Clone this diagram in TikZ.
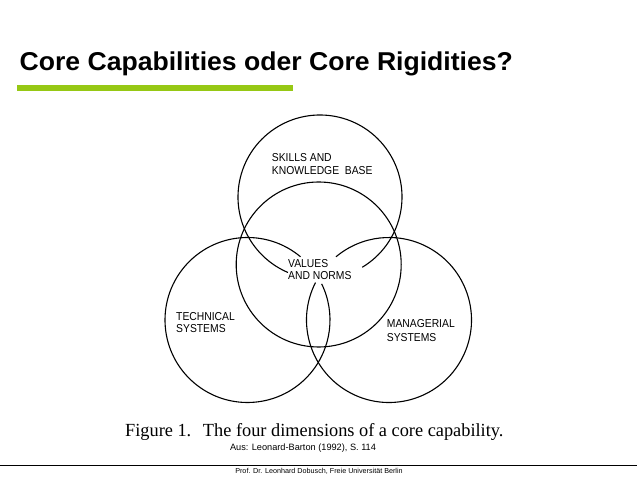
\documentclass[tikz,border=0pt]{standalone}
\usepackage{fontspec}
\setmainfont{Liberation Sans}
\newfontfamily\titlefont[FakeStretch=1.03]{Liberation Sans Bold}
\newfontfamily\labfont[FakeStretch=0.9]{Liberation Sans}
\newfontfamily\capfont[FakeStretch=0.99]{Liberation Serif}
\definecolor{barGreen}{RGB}{150,200,20}
\begin{document}
\begin{tikzpicture}[x=1pt,y=1pt,
  ring/.style={line width=1.1pt, black},
  lab/.style={anchor=base west, inner sep=0pt, font=\labfont\fontsize{11.5}{13}\selectfont},
  ]
\useasboundingbox (0,0) rectangle (638,479);
% title
\node[anchor=base west, inner sep=0pt, font=\titlefont\fontsize{25.8}{30}\selectfont] (title) at (19.5,408.5) {Core Capabilities oder Core Rigidities?};
\fill[barGreen] (17.3,388) rectangle (293,394);
% circle centres
\coordinate (Tc) at (320,282);
\coordinate (Cc) at (318.7,214.5);
\coordinate (Lc) at (247.5,159);
\coordinate (Rc) at (389,159);
% circles
\draw[ring] (Cc) circle[radius=82.5];
\draw[ring] ([shift={(-59:82)}]Tc) arc[start angle=-59, end angle=247, radius=82];
\draw[ring] ([shift={(50:82.5)}]Lc) arc[start angle=50, end angle=386, radius=82.5];
\draw[ring] ([shift={(153:82.5)}]Rc) arc[start angle=153, end angle=490, radius=82.5];
% labels
\node[lab] (sk1) at (271.7,317) {SKILLS AND};
\node[lab] (sk2) at (271.7,304) {KNOWLEDGE\ \ BASE};
\node[lab] (va1) at (288,211) {VALUES};
\node[lab] (va2) at (288,199) {AND NORMS};
\node[lab] (te1) at (176,158) {TECHNICAL};
\node[lab] (te2) at (176,146) {SYSTEMS};
\node[lab] (ma1) at (386.7,151) {MANAGERIAL};
\node[lab] (ma2) at (386.7,137) {SYSTEMS};
% caption
\node[anchor=base west, inner sep=0pt, font=\capfont\fontsize{18.5}{22}\selectfont] (cap) at (125,42) {Figure 1.\hspace{0.3em} The four dimensions of a core capability.};
\node[anchor=base, inner sep=0pt, font=\fontsize{9.2}{11}\selectfont] (src) at (303,28) {Aus: Leonard-Barton (1992), S. 114};
% footer
\coordinate (ruleL) at (0,13.7);
\coordinate (ruleR) at (637,13.7);
\draw[line width=1pt] (ruleL) -- (ruleR);
\node[anchor=base, inner sep=0pt, font=\fontsize{7.2}{9}\selectfont] (foot) at (319,5) {Prof. Dr. Leonhard Dobusch, Freie Universität Berlin};
\end{tikzpicture}
\end{document}
